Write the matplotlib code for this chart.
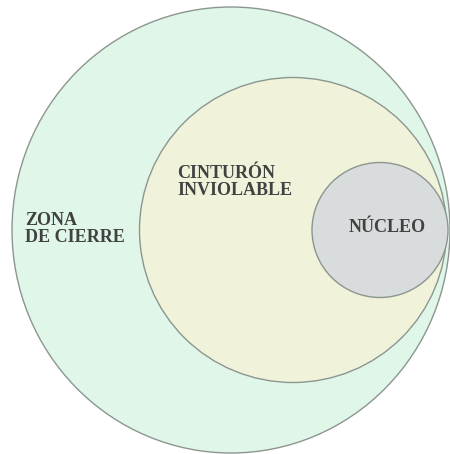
import matplotlib
matplotlib.use("Agg")
import matplotlib.pyplot as plt
from matplotlib.patches import Ellipse

# Regions (outer to inner)
regions = ["ZONA\nDE CIERRE", "CINTURÓN\nINVIOLABLE", "NÚCLEO"]
center_x = [231, 293, 380]
center_y = [230, 230, 230]
widths = [438, 307, 136]
heights = [446, 305, 135]
fill_colors = ["#dff6e8", "#f0f3da", "#d9dcdc"]
label_x = [25, 177, 349]
label_y = [229, 182, 228]

fig = plt.figure(figsize=(4.5, 4.54), dpi=100)
ax = fig.add_axes([0, 0, 1, 1])
ax.set_xlim(0, 450)
ax.set_ylim(454, 0)
ax.axis("off")

for cx, cy, w, h, fc in zip(center_x, center_y, widths, heights, fill_colors):
    ax.add_patch(Ellipse((cx, cy), w, h, facecolor=fc, edgecolor="#8c9690", linewidth=1.0))

for txt, lx, ly in zip(regions, label_x, label_y):
    ax.text(lx, ly, txt, ha="left", va="center", fontsize=13, fontweight="bold",
            family="Liberation Serif", color="#3f4240", linespacing=0.95)

fig.savefig("out.png", dpi=100)
